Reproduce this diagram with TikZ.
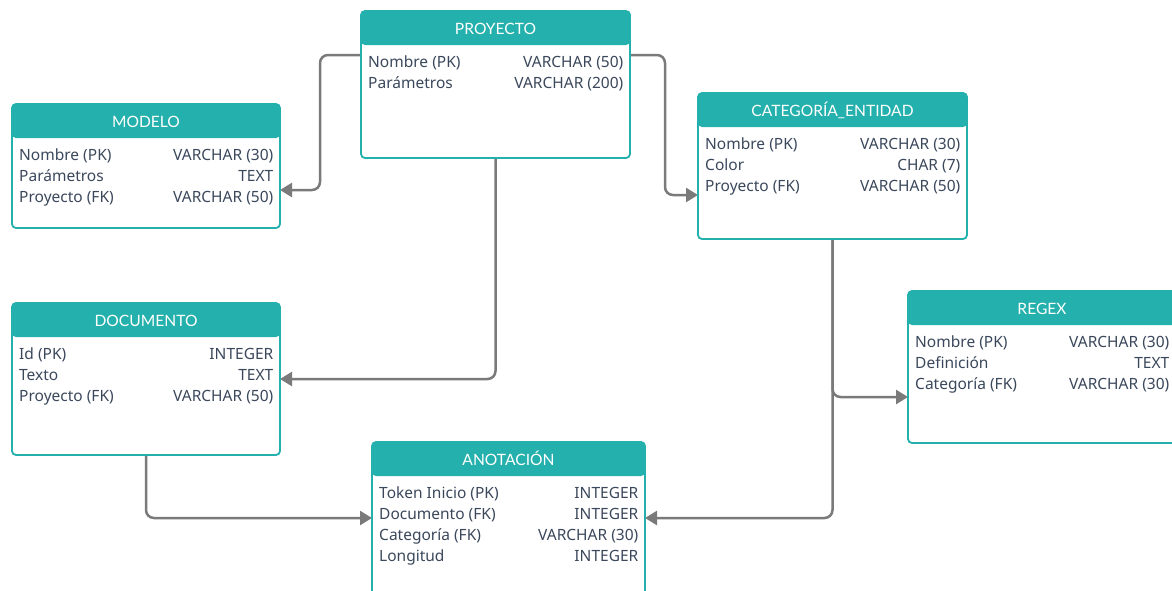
\documentclass[tikz,border=0pt]{standalone}
\usepackage{fontspec}
\setmainfont{Noto Sans}
\newfontfamily\hdrfont{Lato}
\usetikzlibrary{arrows.meta,backgrounds}

\definecolor{erteal}{RGB}{36,176,172}
\definecolor{ertext}{RGB}{59,72,92}
\definecolor{erline}{RGB}{122,122,122}

\tikzset{
  tbl/.style={draw=erteal, line width=1.8pt, fill=white, rounded corners=4pt,
    anchor=north west, inner sep=0pt, outer sep=0pt,
    path picture={\fill[erteal] (path picture bounding box.north west)
      rectangle ([yshift=-34pt]path picture bounding box.north east);}},
  hdrtext/.style={font=\hdrfont\fontsize{15.6}{18}\selectfont, text=white,
    anchor=base, inner sep=0pt},
  cell/.style={font=\fontsize{15.5}{18}\selectfont, text=ertext, inner sep=0pt},
  conn/.style={draw=erline, line width=2.5pt, rounded corners=8pt,
    -{Triangle[length=12pt,width=14pt]}},
}

% table frame with its title bar
\newcommand\ertable[6]{%
  \node[tbl, minimum width=#4pt, minimum height=#5pt] (#1) at (#2,#3) {};
  \node[hdrtext] (#1-title) at ([yshift=-23.5pt]#1.north) {#6};
}
% one attribute row: name on the left, type on the right
\newcommand\errow[4]{%
  \node[cell, anchor=base west] (#1-l#2) at ([xshift=7pt,yshift=-56pt-21pt*#2]#1.north west) {#3};
  \node[cell, anchor=base east] (#1-r#2) at ([xshift=-6.5pt,yshift=-56pt-21pt*#2]#1.north east) {#4};
}

\begin{document}
\begin{tikzpicture}[x=1pt,y=-1pt]
\useasboundingbox (0,0) rectangle (1172,590);
\clip (0,0) rectangle (1172,590);

\ertable{proy}{361}{11}{269}{147}{PROYECTO}
\errow{proy}{0}{Nombre (PK)}{VARCHAR (50)}
\errow{proy}{1}{Parámetros}{VARCHAR (200)}

\ertable{modelo}{12}{104}{268}{124}{MODELO}
\errow{modelo}{0}{Nombre (PK)}{VARCHAR (30)}
\errow{modelo}{1}{Parámetros}{TEXT}
\errow{modelo}{2}{Proyecto (FK)}{VARCHAR (50)}

\ertable{cat}{698}{93}{269}{146}{CATEGORÍA\_ENTIDAD}
\errow{cat}{0}{Nombre (PK)}{VARCHAR (30)}
\errow{cat}{1}{Color}{CHAR (7)}
\errow{cat}{2}{Proyecto (FK)}{VARCHAR (50)}

\ertable{doc}{12}{303}{268}{152}{DOCUMENTO}
\errow{doc}{0}{Id (PK)}{INTEGER}
\errow{doc}{1}{Texto}{TEXT}
\errow{doc}{2}{Proyecto (FK)}{VARCHAR (50)}

\ertable{regex}{908}{291}{268}{152}{REGEX}
\errow{regex}{0}{Nombre (PK)}{VARCHAR (30)}
\errow{regex}{1}{Definición}{TEXT}
\errow{regex}{2}{Categoría (FK)}{VARCHAR (30)}

\ertable{anot}{372}{442}{273}{170}{ANOTACIÓN}
\errow{anot}{0}{Token Inicio (PK)}{INTEGER}
\errow{anot}{1}{Documento (FK)}{INTEGER}
\errow{anot}{2}{Categoría (FK)}{VARCHAR (30)}
\errow{anot}{3}{Longitud}{INTEGER}

% relationships
\begin{scope}[on background layer]
  \draw[conn] (proy.west |- 0,55) -| (320,190) -- (modelo.east |- 0,190);
  \draw[conn] (proy.east |- 0,55) -| (665,195) -- (cat.west |- 0,195);
  \draw[conn] (proy.south) |- (doc.east |- 0,379);
  \draw[conn] (cat.south) |- (anot.east |- 0,518);
  \draw[conn] (cat.south) |- (regex.west |- 0,397);
  \draw[conn] (doc.south) |- (anot.west |- 0,518);
\end{scope}
\end{tikzpicture}
\end{document}
